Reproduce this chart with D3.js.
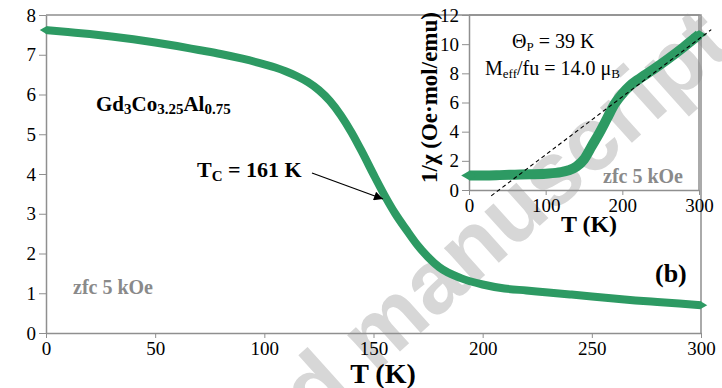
<!DOCTYPE html>
<html>
<head>
<meta charset="utf-8">
<script src="https://cdn.jsdelivr.net/npm/d3@7"></script>
<style>
  body { margin: 0; background: #fff; }
  svg text { font-family: "Liberation Serif", "Times New Roman", serif; }
</style>
</head>
<body>
<div id="chart"></div>
<script>
// main panel: M(T), zfc 5 kOe
const tMain = [0, 10, 20, 30, 40, 50, 60, 70, 80, 90, 100, 105, 110, 115, 120, 125, 130, 135, 140, 145, 150, 155, 160, 165, 170, 175, 180, 190, 200, 210, 220, 230, 240, 250, 260, 270, 280, 290, 300];
const mMain = [7.62, 7.57, 7.52, 7.46, 7.39, 7.31, 7.22, 7.12, 7.02, 6.9, 6.76, 6.68, 6.58, 6.46, 6.31, 6.11, 5.84, 5.48, 5.04, 4.53, 3.99, 3.47, 3.0, 2.6, 2.22, 1.91, 1.66, 1.38, 1.22, 1.12, 1.07, 1.02, 0.97, 0.92, 0.87, 0.82, 0.78, 0.74, 0.7];

// inset: 1/chi vs T
const tInv = [0, 20, 40, 60, 80, 100, 120, 130, 140, 150, 160, 170, 180, 190, 200, 210, 220, 240, 260, 280, 300];
const chiInv = [1.0, 1.0, 1.02, 1.05, 1.08, 1.12, 1.22, 1.35, 1.6, 2.1, 3.0, 3.9, 4.9, 5.9, 6.6, 7.15, 7.55, 8.25, 9.0, 9.8, 10.65];

// Curie-Weiss fit (dashed)
const tFit = [29, 316];
const chiFit = [-0.4, 11.0];

const mainXTicks = [0, 50, 100, 150, 200, 250, 300];
const mainYTicks = [0, 1, 2, 3, 4, 5, 6, 7, 8];
const insetXTicks = [0, 100, 200, 300];
const insetYTicks = [0, 2, 4, 6, 8, 10, 12];

const W = 722, H = 388;
const green = "#2d9a63", axisGrey = "#8f8f8f", labelGrey = "#8a8a8a";

const svg = d3.select("#chart").append("svg")
    .attr("width", W).attr("height", H);

// scales
const x = d3.scaleLinear().domain([0, 300]).range([46, 701]);
const y = d3.scaleLinear().domain([0, 8]).range([333, 15]);
const xi = d3.scaleLinear().domain([0, 300]).range([469, 699]);
const yi = d3.scaleLinear().domain([0, 12]).range([190, 15]);

function styleAxis(g, size) {
    g.select(".domain").attr("stroke", axisGrey).attr("stroke-width", 1.5);
    g.selectAll(".tick line").attr("stroke", axisGrey).attr("stroke-width", 1);
    g.selectAll(".tick text")
        .attr("fill", "#000")
        .style("font-family", '"Liberation Serif", serif')
        .style("font-size", size + "px");
}

// watermark, drawn first so the plot sits on top
svg.append("text")
    .attr("transform", "translate(735,50) rotate(-42)")
    .attr("text-anchor", "end")
    .style("font-family", '"Liberation Sans", Arial, sans-serif')
    .attr("font-weight", "bold").attr("font-size", 90)
    .attr("fill", "#d7d7d7")
    .text("Accepted manuscript");

// main frame (top + right)
svg.append("path")
    .attr("d", `M${x(0)},${y(8)}H${x(300)}V${y(0)}`)
    .attr("fill", "none").attr("stroke", axisGrey).attr("stroke-width", 1.5);

svg.append("g")
    .attr("transform", `translate(0,${y(0)})`)
    .call(d3.axisBottom(x).tickValues(mainXTicks).tickSize(5).tickPadding(4).tickSizeOuter(0))
    .call(g => styleAxis(g, 19));

svg.append("g")
    .attr("transform", `translate(${x(0)},0)`)
    .call(d3.axisLeft(y).tickValues(mainYTicks).tickSize(7).tickPadding(3).tickSizeOuter(0))
    .call(g => styleAxis(g, 19));

// main curve
const lineMain = d3.line()
    .x((d, i) => x(tMain[i]))
    .y(d => y(d))
    .curve(d3.curveMonotoneX);

svg.append("path")
    .datum(mMain)
    .attr("d", lineMain)
    .attr("fill", "none")
    .attr("stroke", green)
    .attr("stroke-width", 8)
    .attr("stroke-linejoin", "round");

const diamond = d3.symbol(d3.symbolDiamond, 45);
[0, mMain.length - 1].forEach(i => {
    svg.append("path")
        .attr("d", diamond())
        .attr("transform", `translate(${x(tMain[i])},${y(mMain[i])}) rotate(90)`)
        .attr("fill", green);
});

// main axis title
svg.append("text")
    .attr("x", 383).attr("y", 383)
    .attr("text-anchor", "middle")
    .attr("font-weight", "bold").attr("font-size", 28)
    .text("T (K)");

// compound label
const comp = svg.append("text")
    .attr("x", 96).attr("y", 111)
    .attr("font-weight", "bold").attr("font-size", 21);
comp.append("tspan").text("Gd");
comp.append("tspan").attr("font-size", 15).attr("dy", 3).text("3");
comp.append("tspan").attr("dy", -3).text("Co");
comp.append("tspan").attr("font-size", 15).attr("dy", 3).text("3.25");
comp.append("tspan").attr("dy", -3).text("Al");
comp.append("tspan").attr("font-size", 15).attr("dy", 3).text("0.75");

// Tc annotation
const tc = svg.append("text")
    .attr("x", 197).attr("y", 177)
    .attr("font-weight", "bold").attr("font-size", 22);
tc.append("tspan").text("T");
tc.append("tspan").attr("font-size", 15).attr("dy", 4).text("C");
tc.append("tspan").attr("dy", -4).text(" = 161 K");

svg.append("defs").append("marker")
    .attr("id", "arrow")
    .attr("viewBox", "0 0 10 10")
    .attr("refX", 10).attr("refY", 5)
    .attr("markerWidth", 12).attr("markerHeight", 9)
    .attr("markerUnits", "userSpaceOnUse")
    .attr("orient", "auto")
    .append("path").attr("d", "M0,0L10,5L0,10Z").attr("fill", "#000");

svg.append("line")
    .attr("x1", 312).attr("y1", 173)
    .attr("x2", 383).attr("y2", 199)
    .attr("stroke", "#000").attr("stroke-width", 1.3)
    .attr("marker-end", "url(#arrow)");

svg.append("text")
    .attr("x", 73).attr("y", 294)
    .attr("font-weight", "bold").attr("font-size", 20)
    .attr("fill", labelGrey)
    .text("zfc 5 kOe");

svg.append("text")
    .attr("x", 655).attr("y", 282)
    .attr("font-weight", "bold").attr("font-size", 26)
    .text("(b)");

// ---------- inset ----------
svg.append("path")
    .attr("d", `M${xi(0)},${yi(12)}H${xi(300)}V${yi(0)}`)
    .attr("fill", "none").attr("stroke", axisGrey).attr("stroke-width", 1.5);

svg.append("g")
    .attr("transform", `translate(0,${yi(0)})`)
    .call(d3.axisBottom(xi).tickValues(insetXTicks).tickSize(5).tickPadding(4).tickSizeOuter(0))
    .call(g => styleAxis(g, 19));

svg.append("g")
    .attr("transform", `translate(${xi(0)},0)`)
    .call(d3.axisLeft(yi).tickValues(insetYTicks).tickSize(7).tickPadding(3).tickSizeOuter(0))
    .call(g => styleAxis(g, 19));

const lineInv = d3.line()
    .x((d, i) => xi(tInv[i]))
    .y(d => yi(d))
    .curve(d3.curveMonotoneX);

svg.append("path")
    .datum(chiInv)
    .attr("d", lineInv)
    .attr("fill", "none")
    .attr("stroke", green)
    .attr("stroke-width", 10)
    .attr("stroke-linejoin", "round");

[0, chiInv.length - 1].forEach(i => {
    svg.append("path")
        .attr("d", d3.symbol(d3.symbolDiamond, 70)())
        .attr("transform", `translate(${xi(tInv[i])},${yi(chiInv[i])}) rotate(90)`)
        .attr("fill", green);
});

// fit line
svg.append("path")
    .datum(chiFit)
    .attr("d", d3.line().x((d, i) => xi(tFit[i])).y(d => yi(d)))
    .attr("fill", "none")
    .attr("stroke", "#000")
    .attr("stroke-width", 1.1)
    .attr("stroke-dasharray", "4,3");

const th = svg.append("text")
    .attr("x", 512).attr("y", 48)
    .attr("font-size", 20);
th.append("tspan").text("Θ");
th.append("tspan").attr("font-size", 13).attr("dy", 3).text("P");
th.append("tspan").attr("dy", -3).text(" = 39 K");

const me = svg.append("text")
    .attr("x", 485).attr("y", 75)
    .attr("font-size", 20);
me.append("tspan").text("M");
me.append("tspan").attr("font-size", 13).attr("dy", 3).text("eff");
me.append("tspan").attr("dy", -3).text("/fu = 14.0 μ");
me.append("tspan").attr("font-size", 13).attr("dy", 3).text("B");

svg.append("text")
    .attr("x", 603).attr("y", 183)
    .attr("font-weight", "bold").attr("font-size", 20)
    .attr("fill", labelGrey)
    .text("zfc 5 kOe");

svg.append("text")
    .attr("x", 589).attr("y", 232)
    .attr("text-anchor", "middle")
    .attr("font-weight", "bold").attr("font-size", 24)
    .text("T (K)");

svg.append("text")
    .attr("transform", "translate(437,183) rotate(-90)")
    .attr("font-weight", "bold").attr("font-size", 23)
    .text("1/χ (Oe·mol/emu)");
</script>
</body>
</html>
